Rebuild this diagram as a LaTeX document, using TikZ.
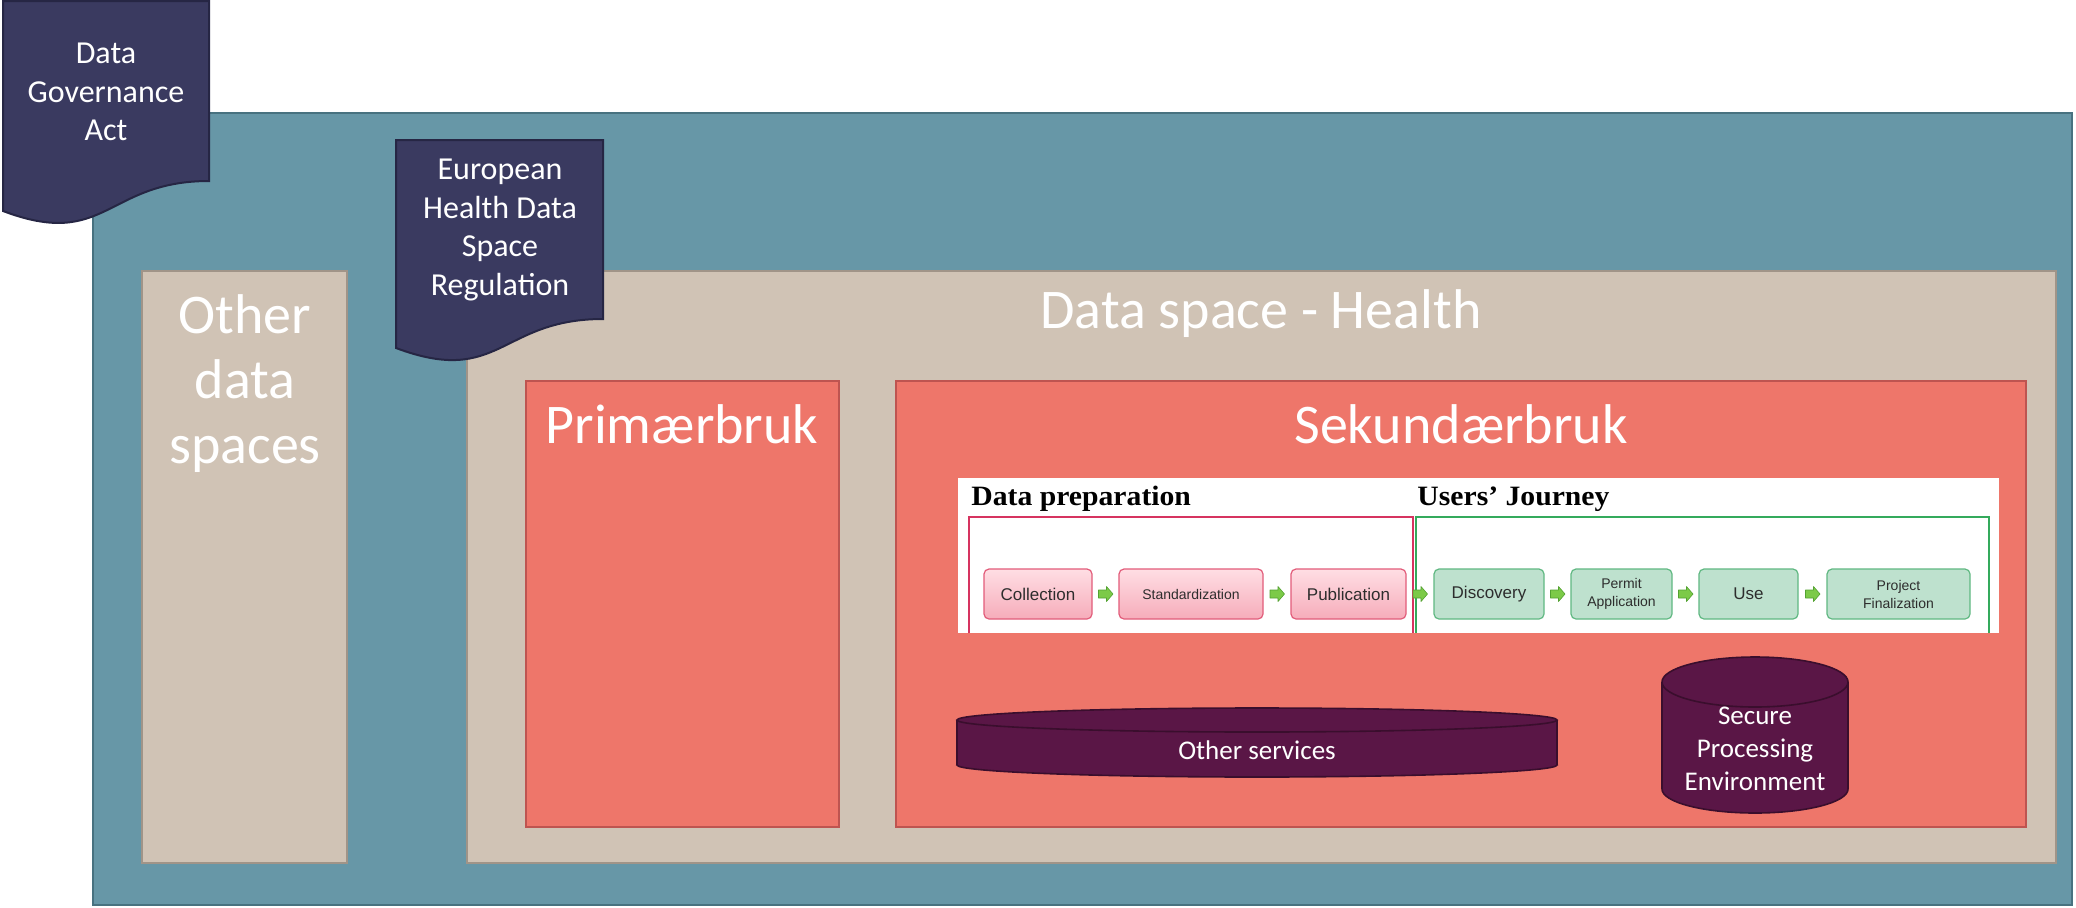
\documentclass[tikz,border=0pt]{standalone}
\usepackage{fontspec}
\setmainfont{Carlito}
\newfontfamily\arialfont{Liberation Sans}
\newfontfamily\serifhead{Liberation Serif}
\usetikzlibrary{calc}

\definecolor{tealbg}{RGB}{103,151,167}
\definecolor{tealedge}{RGB}{72,114,128}
\definecolor{sand}{RGB}{208,195,181}
\definecolor{sandedge}{RGB}{160,148,136}
\definecolor{coral}{RGB}{238,118,106}
\definecolor{coraledge}{RGB}{190,84,80}
\definecolor{navydoc}{RGB}{58,58,96}
\definecolor{navyedge}{RGB}{38,38,68}
\definecolor{plum}{RGB}{90,22,70}
\definecolor{plumedge}{RGB}{58,14,45}
\definecolor{prepline}{RGB}{214,52,96}
\definecolor{journeyline}{RGB}{52,170,92}
\definecolor{preptop}{RGB}{255,222,228}
\definecolor{prepbot}{RGB}{246,172,186}
\definecolor{prepedge}{RGB}{226,92,122}
\definecolor{journeyfill}{RGB}{190,225,206}
\definecolor{journeyedge}{RGB}{96,184,130}
\definecolor{arrowgreen}{RGB}{124,202,72}
\definecolor{arrowedge}{RGB}{84,162,50}
\definecolor{boxtext}{RGB}{45,45,45}

\tikzset{
  bigtitle/.style={text=white,font=\fontsize{28}{32.5}\selectfont,align=center,inner sep=0pt},
  doctext/.style={text=white,font=\fontsize{16}{19.3}\selectfont,align=center,inner sep=0pt},
  cyltext/.style={text=white,font=\fontsize{13.5}{16.5}\selectfont,align=center,inner sep=0pt},
  headtext/.style={anchor=base west,inner sep=0pt,font=\serifhead\bfseries\fontsize{14}{16}\selectfont},
  prepbox/.style={draw=prepedge,line width=0.6pt,rounded corners=2.5pt,top color=preptop,bottom color=prepbot,
    text=boxtext,align=center,minimum height=25pt,inner sep=1pt},
  journeybox/.style={draw=journeyedge,line width=0.6pt,rounded corners=2.5pt,fill=journeyfill,
    text=boxtext,align=center,minimum height=25pt,inner sep=1pt},
  flowarrow/.pic={\draw [draw=arrowedge,fill=arrowgreen,line width=0.3pt,line join=round]
    (-7,-4) -- (1,-4) -- (1,-7.5) -- (7.5,0) -- (1,7.5) -- (1,4) -- (-7,4) -- cycle ;}
}

\begin{document}
\begin{tikzpicture}[x=0.5pt,y=0.5pt,yscale=-1,xscale=1]
\useasboundingbox (0,0) rectangle (2076,907);

%Shape: Rectangle - all data spaces
\draw [fill=tealbg,draw=tealedge,line width=1pt] (93,113) rectangle (2072,905) ;
%Shape: Rectangle - other data spaces
\draw [fill=sand,draw=sandedge,line width=1pt] (142,271) rectangle (347,863) ;
%Shape: Rectangle - health data space
\draw [fill=sand,draw=sandedge,line width=1pt] (467,271) rectangle (2056,863) ;
%Shape: Rectangle - primary use
\draw [fill=coral,draw=coraledge,line width=1pt] (526,381) rectangle (839,827) ;
%Shape: Rectangle - secondary use
\draw [fill=coral,draw=coraledge,line width=1pt] (896,381) rectangle (2026,827) ;

%Shape: Document - DGA
\draw [fill=navydoc,draw=navyedge,line width=1pt] (3,1) -- (209,1) -- (209,181) .. controls (106,181) and (106,250) .. (3,211) -- cycle ;
%Shape: Document - EHDS
\draw [fill=navydoc,draw=navyedge,line width=1pt] (396,140) -- (603,140) -- (603,319) .. controls (500,319) and (500,387) .. (396,348) -- cycle ;

%Image - white background
\fill [white] (958,478) rectangle (1999,633) ;
%Straight Lines - frames
\draw [prepline,line width=1pt] (969,633) -- (969,517) -- (1413,517) -- (1413,633) ;
\draw [journeyline,line width=1pt] (1416,633) -- (1416,517) -- (1989,517) -- (1989,633) ;

%Shape: Can - other services
\draw [fill=plum,draw=plumedge,line width=0.8pt] (1257,765) ellipse [x radius=300,y radius=12] ;
\fill [plum] (957,720) rectangle (1557,765) ;
\draw [plumedge,line width=0.8pt] (957,720) -- (957,765) (1557,720) -- (1557,765) ;
\draw [fill=plum,draw=plumedge,line width=0.8pt] (1257,720) ellipse [x radius=300,y radius=12] ;
%Shape: Can - secure processing environment
\draw [fill=plum,draw=plumedge,line width=0.8pt] (1755,789) ellipse [x radius=93,y radius=24] ;
\fill [plum] (1662,682) rectangle (1848,789) ;
\draw [plumedge,line width=0.8pt] (1662,682) -- (1662,789) (1848,682) -- (1848,789) ;
\draw [fill=plum,draw=plumedge,line width=0.8pt] (1755,682) ellipse [x radius=93,y radius=25] ;

% Text Node
\draw (106,92) node (dga) [doctext] {Data\\Governance\\Act};
% Text Node
\draw (500,230) node (ehds) [doctext] {European\\Health Data\\Space\\Regulation};
% Text Node
\draw (245,384) node (otherds) [bigtitle] {Other\\data\\spaces};
% Text Node
\draw (1261,314) node (healthds) [bigtitle] {Data space - Health};
% Text Node
\draw (682,424) node (primary) [bigtitle] {Primærbruk};
% Text Node
\draw (1461,424) node (secondary) [bigtitle] {Sekundærbruk};
% Text Node
\draw (1257,750) node (othsrv) [cyltext] {Other services};
% Text Node
\draw (1755,749) node (spe) [cyltext] {Secure\\Processing\\Environment};

% Text Node
\draw (971,505) node (prephead) [headtext] {\scalebox{1.06}[1]{Data preparation}};
% Text Node
\draw (1417,505) node (journeyhead) [headtext] {\scalebox{1.06}[1]{Users’ Journey}};

% Steps
\draw (1038,594) node (collect) [prepbox,minimum width=54pt,font=\arialfont\fontsize{8.5}{10}\selectfont] {Collection};
\draw (1191,594) node (standard) [prepbox,minimum width=72pt,font=\arialfont\fontsize{7}{8.5}\selectfont] {Standardization};
\draw (1348.5,594) node (publish) [prepbox,minimum width=57.5pt,font=\arialfont\fontsize{8.5}{10}\selectfont] {Publication};
\draw (1489,594) node (discover) [journeybox,minimum width=55pt,font=\arialfont\fontsize{8.5}{10}\selectfont] {Discovery};
\draw (1621.5,594) node (permit) [journeybox,minimum width=50.5pt,font=\arialfont\fontsize{7}{9}\selectfont] {Permit\\Application};
\draw (1748.5,594) node (use) [journeybox,minimum width=49.5pt,font=\arialfont\fontsize{8.5}{10}\selectfont] {Use};
\draw (1898.5,594) node (finalize) [journeybox,minimum width=71.5pt,font=\arialfont\fontsize{7}{9}\selectfont] {Project\\Finalization};

% Block arrows between steps
\pic at ($(collect.east)!0.5!(standard.west)$) {flowarrow};
\pic at ($(standard.east)!0.5!(publish.west)$) {flowarrow};
\pic at ($(publish.east)!0.5!(discover.west)$) {flowarrow};
\pic at ($(discover.east)!0.5!(permit.west)$) {flowarrow};
\pic at ($(permit.east)!0.5!(use.west)$) {flowarrow};
\pic at ($(use.east)!0.5!(finalize.west)$) {flowarrow};

\end{tikzpicture}
\end{document}
